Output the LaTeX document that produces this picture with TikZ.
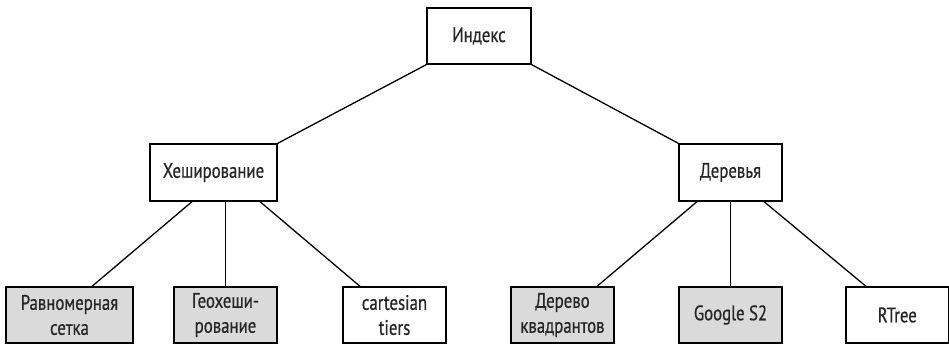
\documentclass[tikz,border=0pt]{standalone}
\usepackage{fontspec}
\setmainfont[FakeStretch=0.8,FakeBold=0.6]{PT Sans}
\definecolor{boxgray}{RGB}{218,218,218}
\begin{document}
\begin{tikzpicture}[x=1pt,y=-1pt,
  box/.style={draw, line width=1.3pt, inner sep=0pt, align=center, minimum height=56,
    font=\fontsize{21}{25}\selectfont, text=black!85},
  shaded/.style={box, fill=boxgray},
  link/.style={line width=1.3pt}]
\useasboundingbox (0,0) rectangle (949,344);
\node[box, minimum width=104] (idx) at (479,36) {Индекс};
\node[box, minimum width=127, minimum height=57] (hash) at (213.5,172.5) {Хеширование};
\node[box, minimum width=103, minimum height=57] (trees) at (730.5,172.5) {Деревья};
\node[shaded, minimum width=127] (b1) at (69.5,315) {Равномерная\\сетка};
\node[shaded, minimum width=103] (b2) at (225.5,315) {Геохеши-\\рование};
\node[box, minimum width=103] (b3) at (394.5,315) {cartesian\\tiers};
\node[shaded, minimum width=103] (b4) at (562.5,315) {Дерево\\квадрантов};
\node[shaded, minimum width=103] (b5) at (730.5,315) {Google S2};
\node[box, minimum width=102.5] (b6) at (897.25,315) {RTree};
\draw[link] (idx.south west) -- (hash.north east);
\draw[link] (idx.south east) -- (trees.north west);
\draw[link] ([xshift=-21.5pt]hash.south) -- ([xshift=22.5pt]b1.north);
\draw[link] (b2.north) -- (b2.north |- hash.south);
\draw[link] ([xshift=46.5pt]hash.south) -- ([xshift=-34.5pt]b3.north);
\draw[link] ([xshift=-33.5pt]trees.south) -- ([xshift=34.5pt]b4.north);
\draw[link] (b5.north) -- (trees.south);
\draw[link] ([xshift=33.5pt]trees.south) -- ([xshift=-31.25pt]b6.north);
\end{tikzpicture}
\end{document}
